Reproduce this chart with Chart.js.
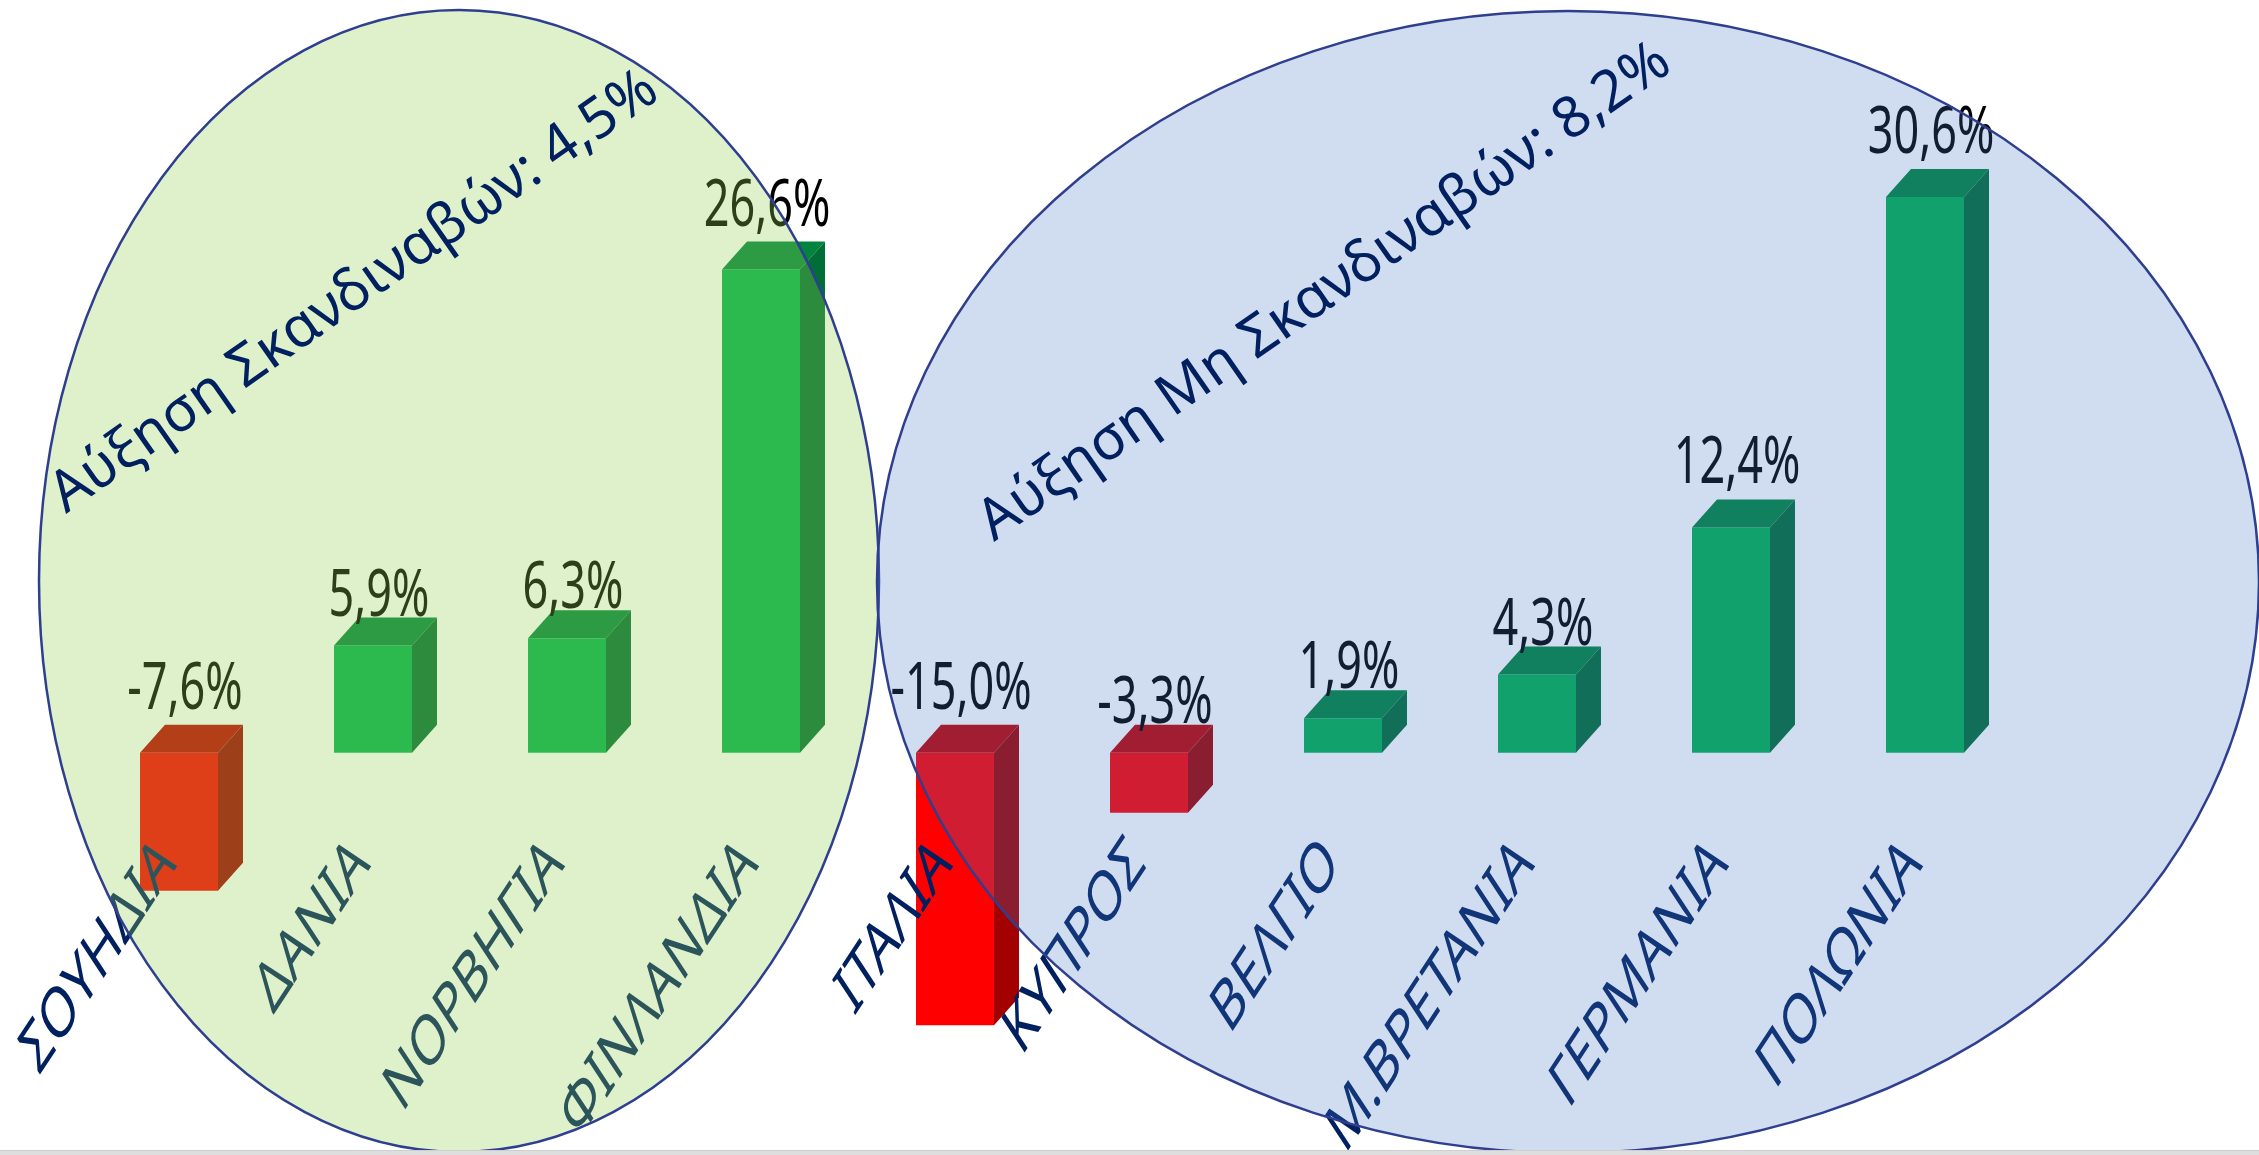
<!DOCTYPE html>
<html>
<head>
<meta charset="utf-8">
<script src="https://cdn.jsdelivr.net/npm/chart.js@4.4.1/dist/chart.umd.min.js"></script>
<style>
  html, body { margin: 0; padding: 0; background: #fff; overflow: hidden; }
  #wrap { position: relative; width: 2259px; height: 1155px; }
  #edge { position: absolute; left: 0; right: 0; bottom: 0; height: 4px; background: #dedede; border-top: 1px solid #cfcfcf; }
</style>
</head>
<body>
<div id="wrap">
  <canvas id="chart"></canvas>
  <div id="edge"></div>
</div>
<script>
// growth per country, %
const categories = ['ΣΟΥΗΔΙΑ', 'ΔΑΝΙΑ', 'ΝΟΡΒΗΓΙΑ', 'ΦΙΝΛΑΝΔΙΑ', 'ΙΤΑΛΙΑ', 'ΚΥΠΡΟΣ', 'ΒΕΛΓΙΟ', 'Μ.ΒΡΕΤΑΝΙΑ', 'ΓΕΡΜΑΝΙΑ', 'ΠΟΛΩΝΙΑ'];
const growth = [-7.6, 5.9, 6.3, 26.6, -15.0, -3.3, 1.9, 4.3, 12.4, 30.6];
const groupNotes = ['Αύξηση Σκανδιναβών: 4,5%', 'Αύξηση Μη Σκανδιναβών: 8,2%'];

const FRONT = { pos: '#00B050', neg: '#FF0000' };
const TOP = { pos: '#00843E', neg: '#C00000' };
const SIDE = { pos: '#006E36', neg: '#A30000' };
const DEPTH_X = 25, DEPTH_Y = 28;

function drawText(ctx, text, x, y, opts) {
  ctx.save();
  ctx.translate(x, y);
  ctx.scale(1, opts.sy || 1);
  ctx.rotate(-(opts.angle || 0) * Math.PI / 180);
  ctx.font = opts.font;
  ctx.fillStyle = opts.color;
  ctx.textAlign = opts.align || 'center';
  ctx.textBaseline = opts.baseline || 'alphabetic';
  ctx.fillText(text, 0, 0);
  ctx.restore();
}

const fmt = v => v.toFixed(1).replace('.', ',') + '%';

const bars3d = {
  id: 'bars3d',
  afterDatasetsDraw(chart) {
    const ctx = chart.ctx;
    const meta = chart.getDatasetMeta(0);
    const xScale = chart.scales.x;
    meta.data.forEach((bar, i) => {
      const { x, y, base, width } = bar.getProps(['x', 'y', 'base', 'width'], true);
      const key = growth[i] < 0 ? 'neg' : 'pos';
      const l = x - width / 2, r = x + width / 2;
      const top = Math.min(y, base), bottom = Math.max(y, base);
      ctx.save();
      ctx.fillStyle = TOP[key];
      ctx.beginPath();
      ctx.moveTo(l, top);
      ctx.lineTo(l + DEPTH_X, top - DEPTH_Y);
      ctx.lineTo(r + DEPTH_X, top - DEPTH_Y);
      ctx.lineTo(r, top);
      ctx.closePath();
      ctx.fill();
      ctx.fillStyle = SIDE[key];
      ctx.beginPath();
      ctx.moveTo(r, top);
      ctx.lineTo(r + DEPTH_X, top - DEPTH_Y);
      ctx.lineTo(r + DEPTH_X, bottom - DEPTH_Y);
      ctx.lineTo(r, bottom);
      ctx.closePath();
      ctx.fill();
      ctx.restore();

      // value label above the bar
      const gap = Math.abs(growth[i]) > 7 ? 44 : 30;
      drawText(ctx, fmt(growth[i]), x + 6, top - gap, {
        font: '45px "Noto Sans"', color: '#000', sy: 1.46
      });

      // category label, rotated and stretched like the source
      const cx = xScale.getPixelForValue(i);
      drawText(ctx, categories[i], cx - 11, 852, {
        font: '46px "Noto Sans"', color: '#002060', angle: 45, sy: 1.52, align: 'right', baseline: 'middle'
      });
    });
  },
  afterDraw(chart) {
    const ctx = chart.ctx;
    const shapes = [
      { cx: 459, cy: 581, rx: 420, ry: 571, fill: 'rgba(146,208,80,0.3)' },
      { cx: 1568, cy: 582, rx: 691, ry: 571, fill: 'rgba(68,114,196,0.25)' }
    ];
    shapes.forEach(s => {
      ctx.save();
      ctx.beginPath();
      ctx.ellipse(s.cx, s.cy, s.rx, s.ry, 0, 0, Math.PI * 2);
      ctx.fillStyle = s.fill;
      ctx.fill();
      ctx.lineWidth = 2.5;
      ctx.strokeStyle = '#2F3F8F';
      ctx.stroke();
      ctx.restore();
    });
    drawText(ctx, groupNotes[0], 66, 514, {
      font: '57px "Noto Sans"', color: '#002060', angle: 35, align: 'left'
    });
    drawText(ctx, groupNotes[1], 994, 542, {
      font: '57px "Noto Sans"', color: '#002060', angle: 34.8, align: 'left'
    });
  }
};

new Chart(document.getElementById('chart'), {
  type: 'bar',
  data: {
    labels: categories,
    datasets: [{
      data: growth,
      backgroundColor: growth.map(v => v < 0 ? FRONT.neg : FRONT.pos),
      borderWidth: 0,
      barPercentage: 0.402,
      categoryPercentage: 1
    }]
  },
  options: {
    responsive: true,
    maintainAspectRatio: false,
    animation: false,
    layout: { padding: { left: 82, right: 237, top: 117, bottom: 39 } },
    scales: {
      x: { display: false },
      y: { display: false, min: -20, max: 35 }
    },
    plugins: {
      legend: { display: false },
      tooltip: { enabled: false }
    }
  },
  plugins: [bars3d]
});
</script>
</body>
</html>
